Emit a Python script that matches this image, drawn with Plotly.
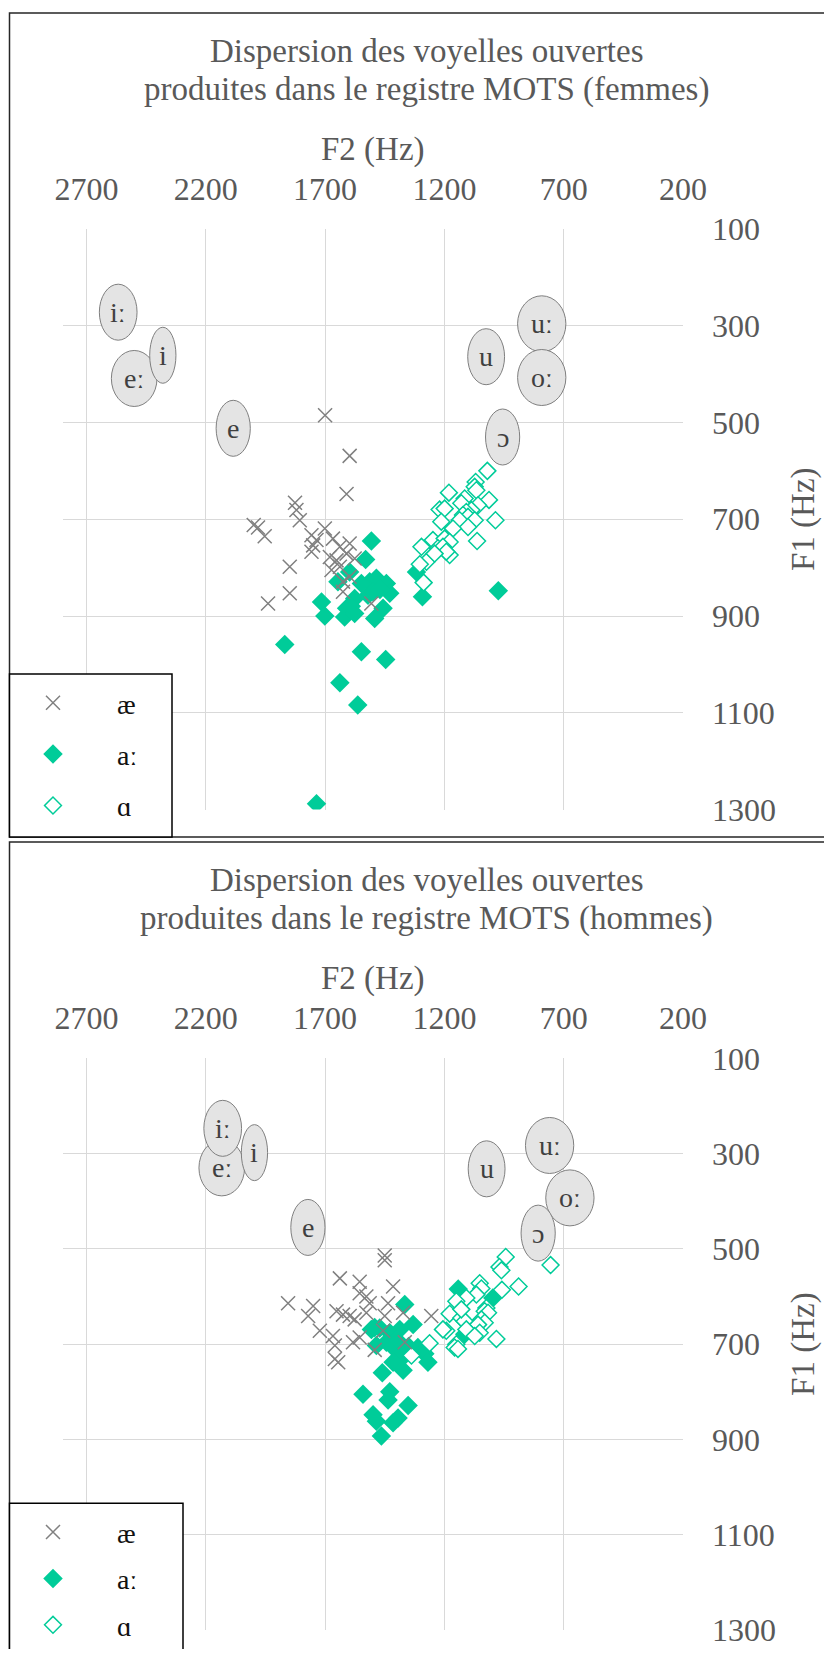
import plotly.graph_objects as go

# ---------------- data ----------------
x_ticks = [2700, 2200, 1700, 1200, 700, 200]
y_ticks = [100, 300, 500, 700, 900, 1100, 1300]

title_line1 = "Dispersion des voyelles ouvertes"
title_line2 = ["produites dans le registre MOTS (femmes)",
               "produites dans le registre MOTS (hommes)"]
series_names = ["æ", "aː", "ɑ"]

# femmes
ae_f2_fem = [1700, 1597, 1610, 1826, 1820, 1806, 1999, 1981, 1953, 1701, 1757, 1736, 1750, 1757, 1667,
             1638, 1597, 1848, 1848, 1939, 1680, 1652, 1610, 1576, 1673, 1638, 1625, 1625, 1506, 1597]
ae_f1_fem = [485, 569, 648, 666, 681, 702, 712, 717, 735, 719, 733, 743, 754, 767, 740,
             757, 750, 798, 853, 874, 778, 785, 771, 781, 805, 798, 829, 850, 874, 819]
aa_f2_fem = [1506, 1530, 1597, 1646, 1715, 1701, 1513, 1485, 1443, 1429, 1457, 1492, 1520, 1576, 1610,
             1618, 1576, 1548, 1446, 1638, 1869, 1563, 1736, 1317, 1292, 974, 1548, 1499, 1470, 1590]
aa_f1_fem = [745, 783, 809, 829, 871, 900, 829, 822, 833, 853, 884, 905, 857, 864, 884,
             902, 895, 974, 990, 1038, 959, 1084, 1288, 809, 860, 848, 833, 850, 845, 880]
a_f2_fem = [1020, 1069, 1073, 1066, 1181, 1013, 1115, 1129, 1220, 1199, 1059, 1087, 1108, 1122, 1101, 1136,
            1213, 1073, 1101, 986, 1164, 1063, 1248, 1296, 1199, 1178, 1227, 1206, 1178, 1192, 1275, 1303,
            1287, 1241]
a_f1_fem = [600, 623, 633, 640, 645, 660, 657, 667, 680, 678, 671, 681, 685, 691, 695, 702,
            705, 702, 716, 702, 719, 745, 743, 757, 740, 747, 760, 757, 774, 767, 788, 793,
            831, 771]

# hommes
ae_f2_hom = [1450, 1450, 1638, 1555, 1415, 1855, 1750, 1771, 1652, 1625, 1597, 1576, 1555, 1527, 1513,
             1527, 1722, 1667, 1659, 1583, 1555, 1659, 1645, 1436, 1450, 1492, 1457, 1366, 1255, 1373]
ae_f1_hom = [514, 524, 562, 569, 579, 614, 620, 641, 631, 638, 641, 648, 593, 600, 614,
             634, 672, 683, 703, 696, 686, 731, 738, 614, 641, 712, 672, 696, 641, 634]
aa_f2_hom = [1366, 1331, 1506, 1471, 1429, 1387, 1485, 1443, 1408, 1373, 1415, 1311, 1282, 1269, 1373,
             1460, 1541, 1429, 1436, 1352, 1499, 1485, 1415, 1394, 1464, 1115, 1142, 997, 1492, 1400, 1350]
aa_f1_hom = [617, 659, 669, 666, 676, 669, 703, 696, 710, 727, 738, 707, 720, 738, 755,
             760, 805, 800, 817, 829, 848, 862, 865, 855, 893, 679, 584, 603, 665, 690, 705]
a_f2_hom = [755, 943, 969, 961, 889, 959, 1052, 1045, 1066, 1108, 1150, 1024, 1031, 1017, 1178, 1129,
            1115, 1045, 1031, 1059, 1108, 1192, 1052, 1073, 982, 1150, 1157, 1143, 1262, 1338, 1206, 1129]
a_f1_hom = [534, 517, 538, 545, 579, 586, 572, 583, 596, 603, 610, 624, 631, 634, 636, 645,
            652, 648, 655, 659, 669, 672, 676, 683, 689, 700, 707, 710, 698, 724, 669, 627]

# reference vowels
ref_labels_fem = ["iː", "eː", "i", "e", "u", "uː", "oː", "ɔ"]
ref_f2_fem = [2567, 2500, 2380, 2085, 1025, 792, 792, 956]
ref_f1_fem = [272, 409, 361, 512, 364, 296, 407, 530]
ref_labels_hom = ["eː", "iː", "i", "e", "u", "uː", "oː", "ɔ"]
ref_f2_hom = [2133, 2129, 1996, 1772, 1023, 759, 674, 807]
ref_f1_hom = [330, 247, 298, 455, 332, 283, 393, 467]

# ---------------- style ----------------
# the page body has an 8px margin: the figure is sized to fit inside it and
# positions below are given in window pixels, converted to figure pixels.
BODY = 8
W, H = 832 - 2 * BODY, 1657 - 2 * BODY
FONT = "Liberation Serif, Times New Roman, serif"
TXT = "#595959"
GRID = "#D9D9D9"
TEAL = "#00CC99"
XGRAY = "#808080"
FRAME = "#262626"


def pxx(p):
    return (p - BODY) / W


def pxy(p):
    return 1 - (p - BODY) / H


CHAR_W = {"i": 278, "e": 444, "u": 500, "o": 500, "ɔ": 444, "ː": 240}


def ellipse_w(label):
    return 13 + 0.0477 * sum(CHAR_W.get(c, 500) for c in label)


charts = [
    dict(off=0.0, ae=(ae_f2_fem, ae_f1_fem), aa=(aa_f2_fem, aa_f1_fem), a=(a_f2_fem, a_f1_fem),
         ref=(ref_labels_fem, ref_f2_fem, ref_f1_fem), sub=title_line2[0], leg_right=172,
         frame=(13, 837), plot=(229.0, 809.5), leg_gap=12),
    dict(off=829.3, ae=(ae_f2_hom, ae_f1_hom), aa=(aa_f2_hom, aa_f1_hom), a=(a_f2_hom, a_f1_hom),
         ref=(ref_labels_hom, ref_f2_hom, ref_f1_hom), sub=title_line2[1], leg_right=183,
         frame=(842, 1720), plot=(1058.3, 1630.0), leg_gap=7),
]

fig = go.Figure()
shapes = []
annotations = []
layout_axes = {}

PLOT_L, PLOT_R = 62.6, 683.0

for k, c in enumerate(charts):
    sfx = "" if k == 0 else str(k + 1)
    xa, ya = "x" + sfx, "y" + sfx
    leg = "legend" + sfx
    off = c["off"]
    ptop, pbot = c["plot"]

    # filled diamonds (aː)
    fig.add_trace(go.Scatter(
        x=c["aa"][0], y=c["aa"][1], mode="markers", name=series_names[1],
        xaxis=xa, yaxis=ya, legend=leg, legendrank=2, legendgroup="aa" + sfx,
        marker=dict(symbol="diamond", size=15, color=TEAL, line=dict(width=0)),
    ))
    # open diamonds (ɑ)
    fig.add_trace(go.Scatter(
        x=c["a"][0], y=c["a"][1], mode="markers", name=series_names[2],
        xaxis=xa, yaxis=ya, legend=leg, legendrank=3, legendgroup="a" + sfx,
        marker=dict(symbol="diamond", size=13, color="white", line=dict(width=1.5, color=TEAL)),
    ))
    # crosses (æ)
    fig.add_trace(go.Scatter(
        x=c["ae"][0], y=c["ae"][1], mode="markers", name=series_names[0],
        xaxis=xa, yaxis=ya, legend=leg, legendrank=1, legendgroup="ae" + sfx,
        marker=dict(symbol="x-thin", size=14, color=XGRAY, line=dict(width=1.5, color=XGRAY)),
    ))

    axis_font = dict(family=FONT, size=32, color=TXT)
    layout_axes["xaxis" + sfx] = dict(
        domain=[pxx(PLOT_L), pxx(PLOT_R)], anchor=ya, side="top",
        range=[2800, 200], tickvals=x_ticks, showgrid=True, gridcolor=GRID, gridwidth=1,
        zeroline=False, showline=False, ticks="", tickfont=axis_font, ticklabelstandoff=22,
        title=dict(text="F2 (Hz)", font=dict(family=FONT, size=33, color=TXT), standoff=0),
    )
    layout_axes["yaxis" + sfx] = dict(
        domain=[pxy(pbot), pxy(ptop)], anchor=xa, side="right",
        range=[1300, 100], tickvals=y_ticks, showgrid=True, gridcolor=GRID, gridwidth=1,
        zeroline=False, showline=False, ticks="", tickfont=axis_font, ticklabelstandoff=28,
        title=dict(text="F1 (Hz)", font=dict(family=FONT, size=33, color=TXT), standoff=15),
    )

    # outer frame of the chart
    ft, fb = c["frame"]
    shapes.append(dict(type="rect", xref="paper", yref="paper",
                       x0=pxx(9.5), x1=pxx(900), y0=pxy(fb), y1=pxy(ft),
                       line=dict(color=FRAME, width=1.5), fillcolor="rgba(0,0,0,0)", layer="above"))

    # reference vowel ellipses
    labels, rf2, rf1 = c["ref"]
    for lab, fx, fy in zip(labels, rf2, rf1):
        w = ellipse_w(lab)
        shapes.append(dict(type="circle", xref=xa, yref=ya, xsizemode="pixel", ysizemode="pixel",
                           xanchor=fx, yanchor=fy, x0=-w / 2, x1=w / 2, y0=-28, y1=28,
                           fillcolor="#E4E4E4", line=dict(color="#7F7F7F", width=1), layer="above"))
        annotations.append(dict(x=fx, y=fy, xref=xa, yref=ya, text=lab, showarrow=False,
                                font=dict(family=FONT, size=28, color="#404040")))

    # legend box
    lt = 674 + off
    shapes.append(dict(type="rect", xref="paper", yref="paper",
                       x0=pxx(9.5), x1=pxx(c["leg_right"]), y0=pxy(fb), y1=pxy(lt),
                       line=dict(color="#000000", width=1.5), fillcolor="white", layer="above"))

    layout_axes[leg] = dict(
        x=pxx(53 - 64), y=pxy(lt + 4), xanchor="left", yanchor="top",
        bgcolor="rgba(0,0,0,0)", borderwidth=0, itemwidth=118, tracegroupgap=c["leg_gap"],
        traceorder="grouped", font=dict(family=FONT, size=28, color="#111111"),
    )

    # chart title (two lines)
    for txt, yc in ((title_line1, 51), (c["sub"], 89)):
        annotations.append(dict(x=pxx(427), y=pxy(yc + off), xref="paper", yref="paper",
                                text=txt, showarrow=False, xanchor="center", yanchor="middle",
                                font=dict(family=FONT, size=33, color=TXT)))

fig.update_layout(
    width=W, height=H,
    margin=dict(l=0, r=0, t=0, b=0, autoexpand=False),
    paper_bgcolor="white", plot_bgcolor="white",
    showlegend=True,
    shapes=shapes, annotations=annotations,
    **layout_axes,
)

fig.write_html("out.html")
